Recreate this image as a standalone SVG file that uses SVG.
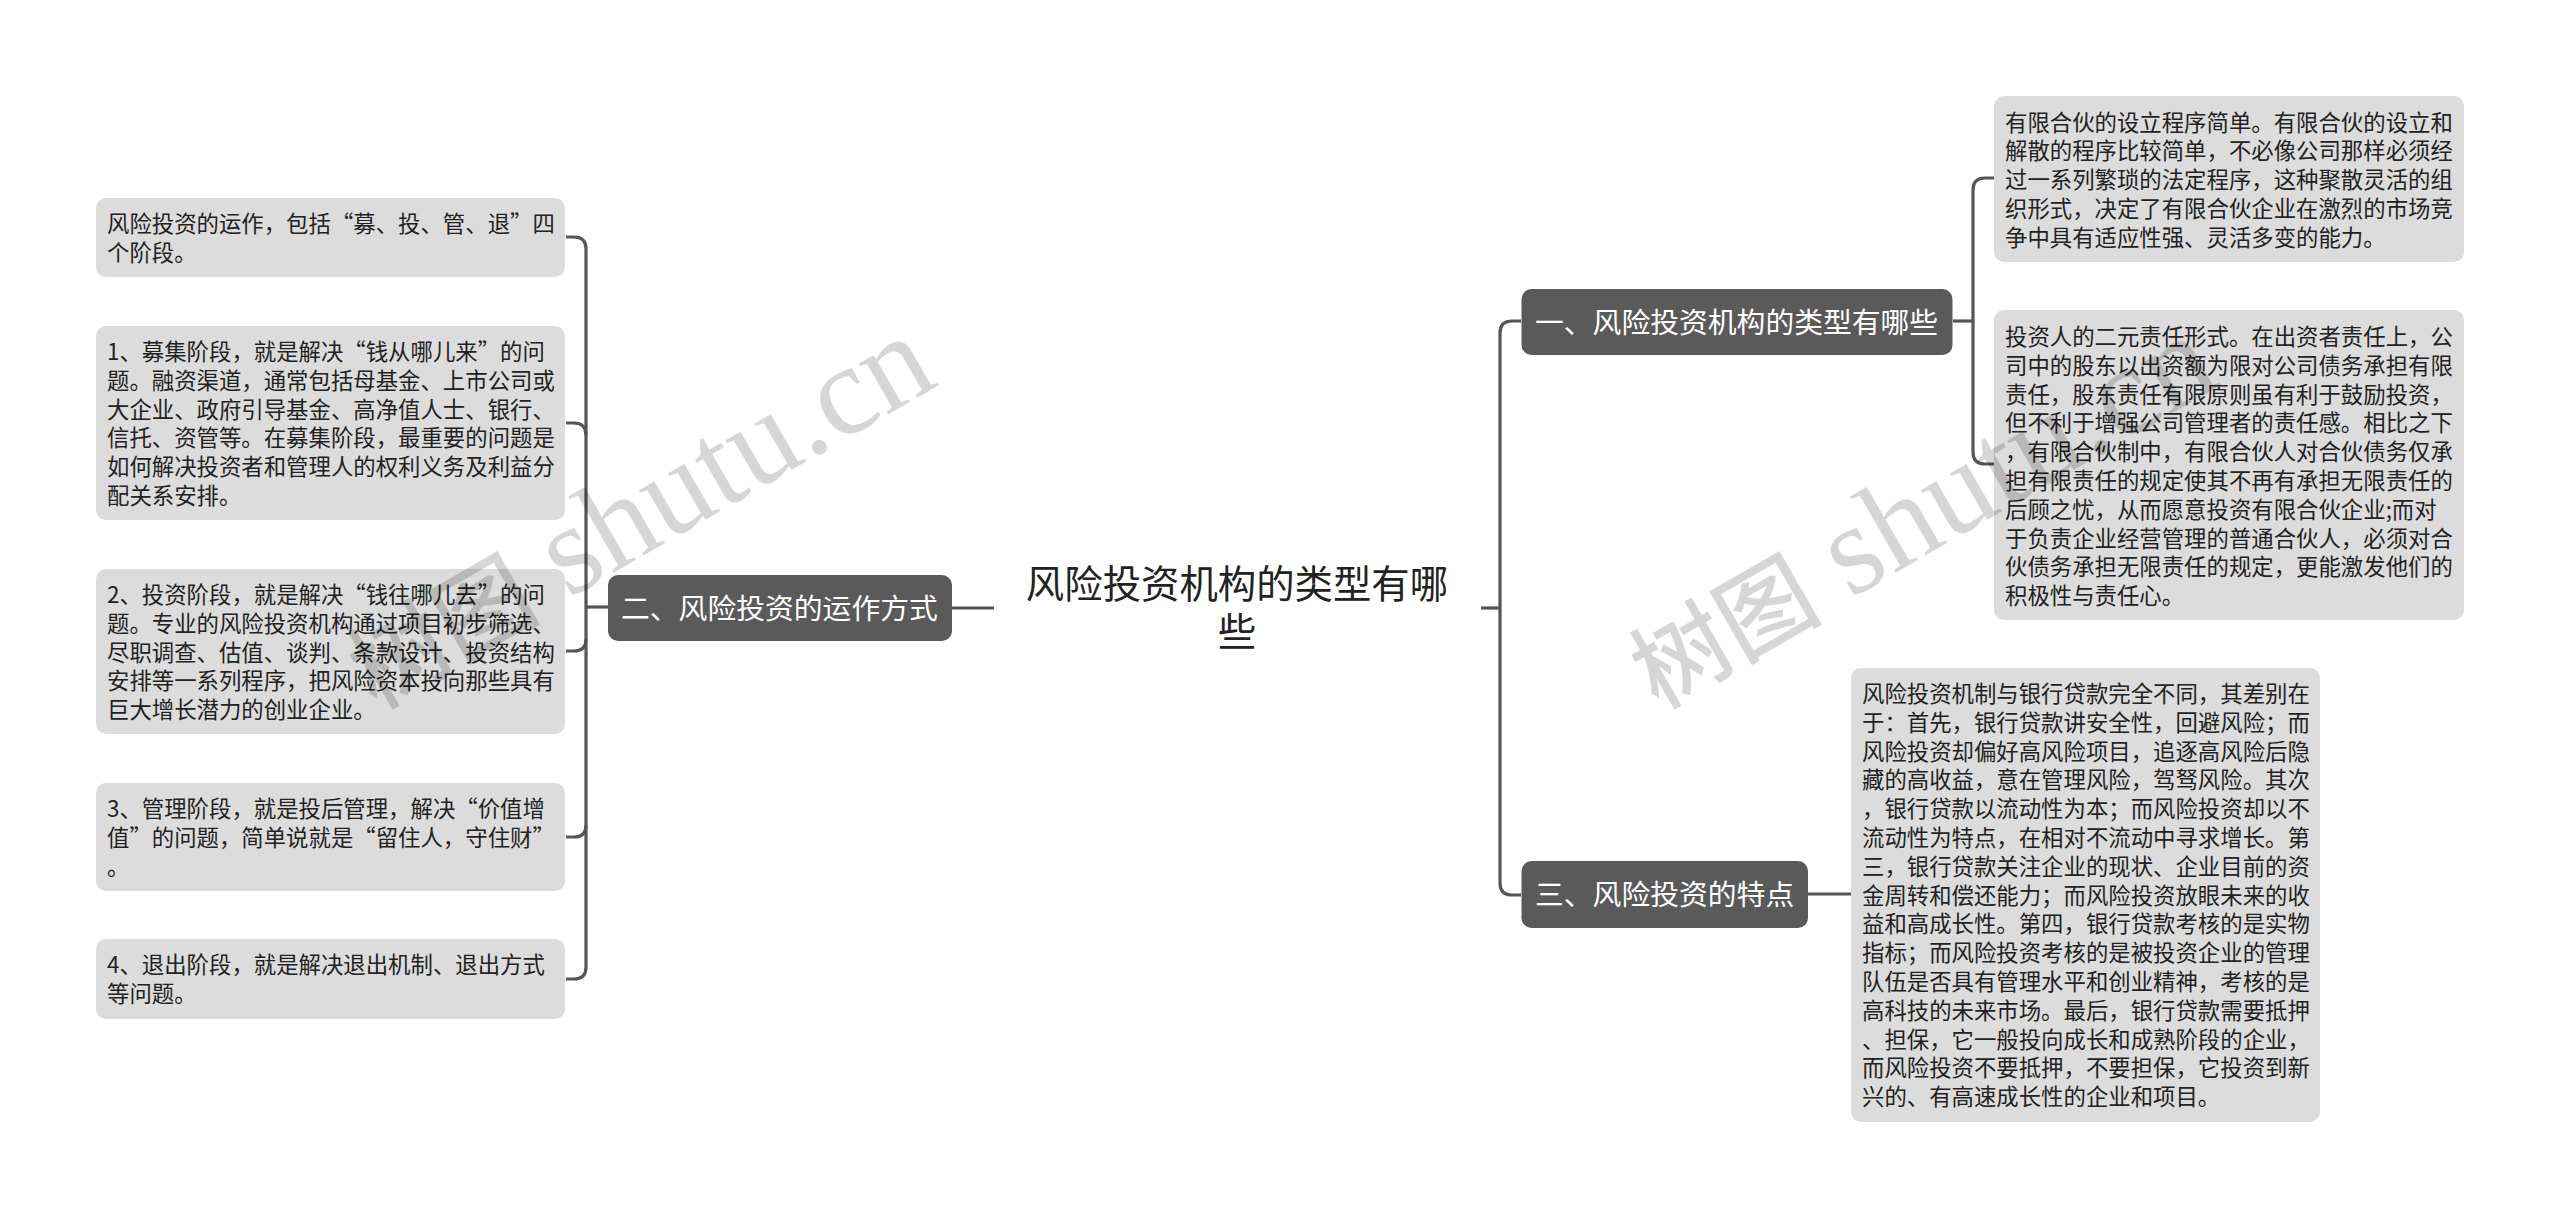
<svg xmlns="http://www.w3.org/2000/svg" width="2560" height="1218" viewBox="0 0 2560 1218">
<style>
text{font-family:"Noto Sans CJK SC","Liberation Sans",sans-serif}
.leaf rect{fill:#dcdcdc}
.leaf text{font-size:22.4px;fill:#222}
.branch rect{fill:#5a5a5a}
.branch text{font-size:28.8px;fill:#fff}
#root text{font-size:38.4px;fill:#222;text-anchor:middle}
.wm{fill:#000;fill-opacity:.16;font-size:96px;font-weight:500}
.wm .lat{font-family:"Liberation Serif",serif;font-size:128px;font-weight:400}
#connectors path{fill:none;stroke:#555;stroke-width:3.2}
</style>
<rect width="2560" height="1218" fill="#fff"/>
<g id="connectors">
<path d="M566 237H574Q586 237 586 249V967Q586 979 574 979H566"/>
<path d="M566 423H574Q586 423 586 435"/>
<path d="M566 651H574Q586 651 586 639"/>
<path d="M566 837H574Q586 837 586 825"/>
<path d="M586 607H608"/>
<path d="M952 608H994"/>
<path d="M1481 608H1500"/>
<path d="M1521 321H1512Q1500 321 1500 333V883Q1500 895 1512 895H1521"/>
<path d="M1953 321H1973"/>
<path d="M1994 178H1985Q1973 178 1973 190V452Q1973 464 1985 464H1994"/>
<path d="M1808 894H1851"/>
</g>
<g id="root"><text x="1237" y="598">风险投资机构的类型有哪</text><text x="1237" y="646">些</text></g>
<g id="n2" class="branch"><rect x="608" y="575" width="344" height="66" rx="10"/><text x="621" y="619">二、风险投资的运作方式</text></g>
<g id="n1" class="branch"><rect x="1521.500" y="289" width="431" height="66" rx="10"/><text x="1535" y="333">一、风险投资机构的类型有哪些</text></g>
<g id="n3" class="branch"><rect x="1521.500" y="861" width="286.500" height="67" rx="10"/><text x="1535" y="905">三、风险投资的特点</text></g>
<g id="l1" class="leaf"><rect x="96" y="198" width="469" height="79" rx="10"/><text x="107" y="232"><tspan x="107" dy="0">风险投资的运作，包括“募、投、管、退”四</tspan><tspan x="107" dy="28.800">个阶段。</tspan></text></g>
<g id="l2" class="leaf"><rect x="96" y="326" width="469" height="194" rx="10"/><text x="107" y="360"><tspan x="107" dy="0">1、募集阶段，就是解决“钱从哪儿来”的问</tspan><tspan x="107" dy="28.800">题。融资渠道，通常包括母基金、上市公司或</tspan><tspan x="107" dy="28.800">大企业、政府引导基金、高净值人士、银行、</tspan><tspan x="107" dy="28.800">信托、资管等。在募集阶段，最重要的问题是</tspan><tspan x="107" dy="28.800">如何解决投资者和管理人的权利义务及利益分</tspan><tspan x="107" dy="28.800">配关系安排。</tspan></text></g>
<g id="l3" class="leaf"><rect x="96" y="569" width="469" height="165" rx="10"/><text x="107" y="603"><tspan x="107" dy="0">2、投资阶段，就是解决“钱往哪儿去”的问</tspan><tspan x="107" dy="28.800">题。专业的风险投资机构通过项目初步筛选、</tspan><tspan x="107" dy="28.800">尽职调查、估值、谈判、条款设计、投资结构</tspan><tspan x="107" dy="28.800">安排等一系列程序，把风险资本投向那些具有</tspan><tspan x="107" dy="28.800">巨大增长潜力的创业企业。</tspan></text></g>
<g id="l4" class="leaf"><rect x="96" y="783" width="469" height="108" rx="10"/><text x="107" y="817"><tspan x="107" dy="0">3、管理阶段，就是投后管理，解决“价值增</tspan><tspan x="107" dy="28.800">值”的问题，简单说就是“留住人，守住财”</tspan><tspan x="107" dy="28.800">。</tspan></text></g>
<g id="l5" class="leaf"><rect x="96" y="939" width="469" height="80" rx="10"/><text x="107" y="973"><tspan x="107" dy="0">4、退出阶段，就是解决退出机制、退出方式</tspan><tspan x="107" dy="28.800">等问题。</tspan></text></g>
<g id="r1" class="leaf"><rect x="1994" y="96" width="470" height="166" rx="10"/><text x="2005" y="130.500"><tspan x="2005" dy="0">有限合伙的设立程序简单。有限合伙的设立和</tspan><tspan x="2005" dy="28.800">解散的程序比较简单，不必像公司那样必须经</tspan><tspan x="2005" dy="28.800">过一系列繁琐的法定程序，这种聚散灵活的组</tspan><tspan x="2005" dy="28.800">织形式，决定了有限合伙企业在激烈的市场竞</tspan><tspan x="2005" dy="28.800">争中具有适应性强、灵活多变的能力。</tspan></text></g>
<g id="r2" class="leaf"><rect x="1994" y="310" width="470" height="310" rx="10"/><text x="2005" y="345"><tspan x="2005" dy="0">投资人的二元责任形式。在出资者责任上，公</tspan><tspan x="2005" dy="28.800">司中的股东以出资额为限对公司债务承担有限</tspan><tspan x="2005" dy="28.800">责任，股东责任有限原则虽有利于鼓励投资，</tspan><tspan x="2005" dy="28.800">但不利于增强公司管理者的责任感。相比之下</tspan><tspan x="2005" dy="28.800">，有限合伙制中，有限合伙人对合伙债务仅承</tspan><tspan x="2005" dy="28.800">担有限责任的规定使其不再有承担无限责任的</tspan><tspan x="2005" dy="28.800">后顾之忧，从而愿意投资有限合伙企业;而对</tspan><tspan x="2005" dy="28.800">于负责企业经营管理的普通合伙人，必须对合</tspan><tspan x="2005" dy="28.800">伙债务承担无限责任的规定，更能激发他们的</tspan><tspan x="2005" dy="28.800">积极性与责任心。</tspan></text></g>
<g id="r3" class="leaf"><rect x="1851" y="668" width="469" height="454" rx="10"/><text x="1862" y="702"><tspan x="1862" dy="0">风险投资机制与银行贷款完全不同，其差别在</tspan><tspan x="1862" dy="28.800">于：首先，银行贷款讲安全性，回避风险；而</tspan><tspan x="1862" dy="28.800">风险投资却偏好高风险项目，追逐高风险后隐</tspan><tspan x="1862" dy="28.800">藏的高收益，意在管理风险，驾驽风险。其次</tspan><tspan x="1862" dy="28.800">，银行贷款以流动性为本；而风险投资却以不</tspan><tspan x="1862" dy="28.800">流动性为特点，在相对不流动中寻求增长。第</tspan><tspan x="1862" dy="28.800">三，银行贷款关注企业的现状、企业目前的资</tspan><tspan x="1862" dy="28.800">金周转和偿还能力；而风险投资放眼未来的收</tspan><tspan x="1862" dy="28.800">益和高成长性。第四，银行贷款考核的是实物</tspan><tspan x="1862" dy="28.800">指标；而风险投资考核的是被投资企业的管理</tspan><tspan x="1862" dy="28.800">队伍是否具有管理水平和创业精神，考核的是</tspan><tspan x="1862" dy="28.800">高科技的未来市场。最后，银行贷款需要抵押</tspan><tspan x="1862" dy="28.800">、担保，它一般投向成长和成熟阶段的企业，</tspan><tspan x="1862" dy="28.800">而风险投资不要抵押，不要担保，它投资到新</tspan><tspan x="1862" dy="28.800">兴的、有高速成长性的企业和项目。</tspan></text></g>
<g id="watermarks">
<text class="wm" transform="translate(376 710) rotate(-30)">树图<tspan class="lat" x="222">shutu.cn</tspan></text>
<text class="wm" transform="translate(1658 710) rotate(-30)">树图<tspan class="lat" x="222">shutu.cn</tspan></text>
</g>
</svg>
